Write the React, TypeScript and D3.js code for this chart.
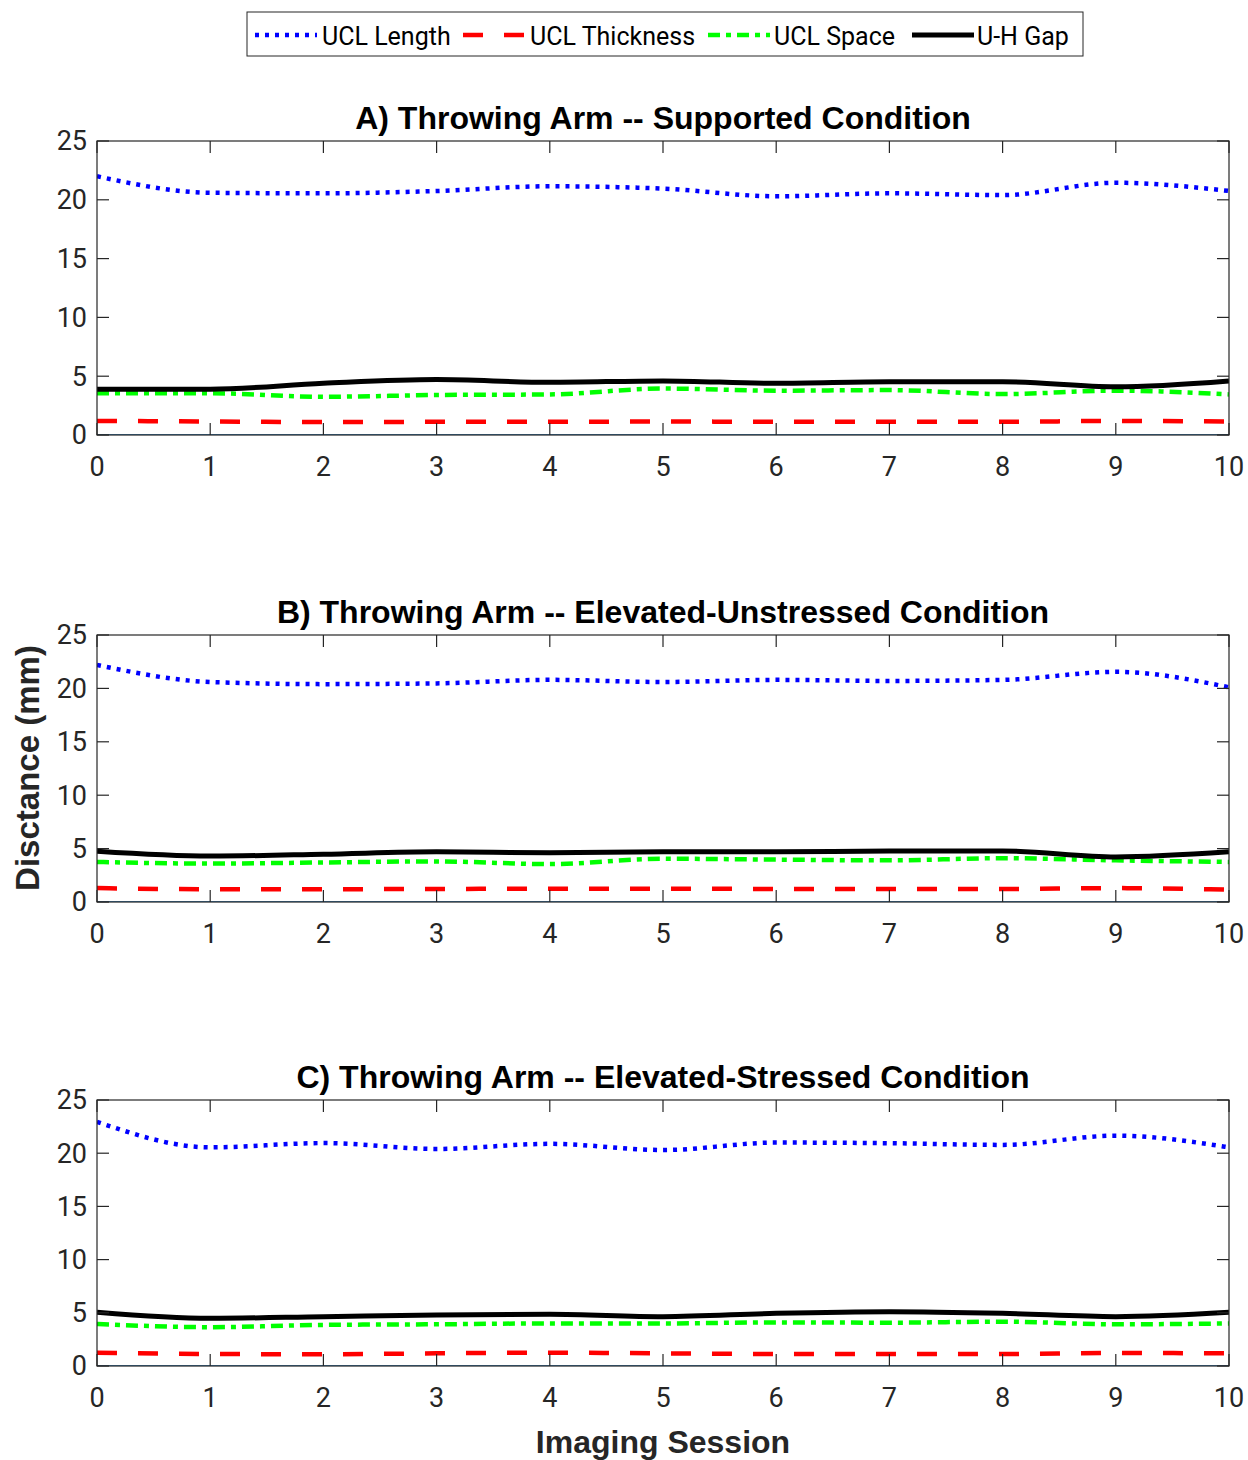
import React from "react";
import * as d3 from "d3";

const sessions = [0, 1, 2, 3, 4, 5, 6, 7, 8, 9, 10];
const xTicks = [0, 1, 2, 3, 4, 5, 6, 7, 8, 9, 10];
const yTicks = [0, 5, 10, 15, 20, 25];

const panelTitles = [
  "A) Throwing Arm -- Supported Condition",
  "B) Throwing Arm -- Elevated-Unstressed Condition",
  "C) Throwing Arm -- Elevated-Stressed Condition",
];

const seriesNames = ["UCL Length", "UCL Thickness", "UCL Space", "U-H Gap"];

// Panel A
const lengthA = [22.0, 20.6, 20.55, 20.75, 21.15, 20.95, 20.3, 20.55, 20.4, 21.45, 20.75];
const thickA = [1.2, 1.15, 1.1, 1.12, 1.12, 1.15, 1.12, 1.12, 1.12, 1.2, 1.15];
const spaceA = [3.55, 3.55, 3.25, 3.4, 3.45, 3.95, 3.77, 3.82, 3.48, 3.77, 3.45];
const gapA = [3.9, 3.9, 4.4, 4.72, 4.48, 4.6, 4.4, 4.53, 4.53, 4.1, 4.6];

// Panel B
const lengthB = [22.2, 20.6, 20.4, 20.47, 20.8, 20.6, 20.8, 20.7, 20.8, 21.55, 20.1];
const thickB = [1.3, 1.2, 1.2, 1.22, 1.25, 1.25, 1.22, 1.22, 1.22, 1.3, 1.15];
const spaceB = [3.75, 3.6, 3.7, 3.8, 3.55, 4.05, 3.97, 3.9, 4.1, 3.9, 3.75];
const gapB = [4.75, 4.3, 4.47, 4.7, 4.6, 4.7, 4.7, 4.78, 4.78, 4.22, 4.7];

// Panel C
const lengthC = [22.95, 20.55, 20.95, 20.4, 20.88, 20.3, 21.0, 20.94, 20.78, 21.65, 20.55];
const thickC = [1.25, 1.13, 1.1, 1.19, 1.25, 1.19, 1.13, 1.13, 1.13, 1.22, 1.19];
const spaceC = [3.95, 3.65, 3.86, 3.92, 4.0, 4.0, 4.1, 4.07, 4.17, 3.92, 4.0];
const gapC = [5.05, 4.48, 4.64, 4.8, 4.86, 4.64, 4.95, 5.1, 4.95, 4.64, 5.05];

const baseline = [0, 0, 0, 0, 0, 0, 0, 0, 0, 0, 0];

const panelData = [
  [lengthA, thickA, spaceA, gapA],
  [lengthB, thickB, spaceB, gapB],
  [lengthC, thickC, spaceC, gapC],
];

const styles = [
  { color: "#0000FF", width: 4.5, dash: "4 6" },
  { color: "#FF0000", width: 4.5, dash: "20 21" },
  { color: "#00FF00", width: 4.5, dash: "12 6 5 6" },
  { color: "#000000", width: 5, dash: "none" },
];

const FONT = "Roboto, 'Liberation Sans', Arial, sans-serif";
const BOLDFONT = "'Liberation Sans', Arial, Helvetica, sans-serif";
const AX = "#262626";

const left = 97;
const right = 1229;
const panelBoxes = [
  { top: 141, bottom: 435 },
  { top: 635, bottom: 902 },
  { top: 1100, bottom: 1366 },
];

export default function App() {
  const x = d3.scaleLinear().domain([0, 10]).range([left, right]);
  const tick = 12;

  return (
    <svg width={1248} height={1460} style={{ display: "block", position: "absolute", left: 0, top: 0 }} fontFamily={FONT}>
      <rect width={1248} height={1460} fill="#fff" />
      {/* Legend */}
      <g>
        <rect x={247} y={12} width={836} height={44} fill="#fff" stroke={AX} strokeWidth={1} />
        {seriesNames.map((name, i) => {
          const lx = [255, 463, 708, 912][i];
          const tx = [322, 530, 774, 977][i];
          const st = styles[i];
          return (
            <g key={name}>
              <line x1={lx} x2={lx + 62} y1={35} y2={35} stroke={st.color} strokeWidth={st.width} strokeDasharray={st.dash} />
              <text x={tx} y={36} dy="0.35em" fontSize={25} fill="#000">{name}</text>
            </g>
          );
        })}
      </g>
      {panelBoxes.map((pb, p) => {
        const y = d3.scaleLinear().domain([0, 25]).range([pb.bottom, pb.top]);
        const line = d3
          .line<number>()
          .x((_, i) => x(sessions[i]))
          .y((d) => y(d))
          .curve(d3.curveMonotoneX);
        return (
          <g key={p}>
            <text
              x={663}
              y={pb.top - 12}
              textAnchor="middle"
              fontSize={32}
              fontWeight="bold"
              fontFamily={BOLDFONT}
              fill="#000"
            >
              {panelTitles[p]}
            </text>
            <defs>
              <clipPath id={`clip${p}`}>
                <rect x={left} y={pb.top} width={right - left} height={pb.bottom - pb.top} />
              </clipPath>
            </defs>
            <g clipPath={`url(#clip${p})`}>
              <path d={line(baseline) || ""} fill="none" stroke="#3f7fb5" strokeWidth={2} />
              {panelData[p].map((vals, i) => (
                <path
                  key={i}
                  d={line(vals) || ""}
                  fill="none"
                  stroke={styles[i].color}
                  strokeWidth={styles[i].width}
                  strokeDasharray={styles[i].dash}
                />
              ))}
            </g>
            <rect x={left} y={pb.top} width={right - left} height={pb.bottom - pb.top} fill="none" stroke={AX} strokeWidth={1.2} />
            {xTicks.map((t) => (
              <g key={`x${t}`}>
                <line x1={x(t)} x2={x(t)} y1={pb.bottom} y2={pb.bottom - tick} stroke={AX} strokeWidth={1.2} />
                <line x1={x(t)} x2={x(t)} y1={pb.top} y2={pb.top + tick} stroke={AX} strokeWidth={1.2} />
                <text x={x(t)} y={pb.bottom + 32} textAnchor="middle" dy="0.35em" fontSize={27} fill={AX}>
                  {t}
                </text>
              </g>
            ))}
            {yTicks.map((t) => (
              <g key={`y${t}`}>
                <line x1={left} x2={left + tick} y1={y(t)} y2={y(t)} stroke={AX} strokeWidth={1.2} />
                <line x1={right} x2={right - tick} y1={y(t)} y2={y(t)} stroke={AX} strokeWidth={1.2} />
                <text x={left - 10} y={y(t)} textAnchor="end" dy="0.35em" fontSize={27} fill={AX}>
                  {t}
                </text>
              </g>
            ))}
          </g>
        );
      })}
      <text
        transform="translate(39,768) rotate(-90)"
        textAnchor="middle"
        fontSize={33}
        fontWeight="bold"
        fontFamily={BOLDFONT}
        fill={AX}
      >
        Disctance (mm)
      </text>
      <text
        x={663}
        y={1442}
        dy="0.35em"
        textAnchor="middle"
        fontSize={32}
        fontWeight="bold"
        fontFamily={BOLDFONT}
        fill={AX}
      >
        Imaging Session
      </text>
    </svg>
  );
}
